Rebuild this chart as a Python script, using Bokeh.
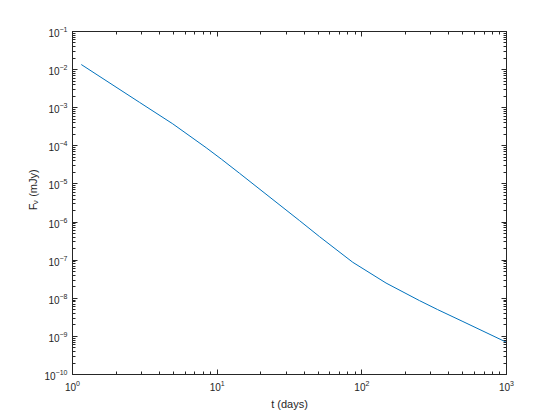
import math
from bokeh.plotting import figure
from bokeh.layouts import row
from bokeh.models import Range1d, LogAxis, FixedTicker, CustomJSTickFormatter
from bokeh.core.properties import value
from bokeh.embed import file_html
from bokeh.resources import INLINE

# Data (t in days, flux density in mJy)
t_days = [1.15, 2.90, 4.93, 8.40, 10.7, 14.26, 37.0, 50.9, 86.5,
          147.0, 250.0, 334.0, 500.0, 1000.0]
flux_mjy = [1.36e-2, 1.39e-3, 3.78e-4, 8.91e-5, 4.47e-5, 1.91e-5, 1.10e-6,
            4.17e-7, 8.81e-8, 2.51e-8, 8.71e-9, 5.05e-9, 2.45e-9, 7.0e-10]

x_major = [1, 10, 100, 1000]
y_major = [10.0 ** e for e in range(-10, 0)]

x_minor = [m * 10.0 ** e for e in range(0, 3) for m in range(2, 10)]
y_minor = [m * 10.0 ** e for e in range(-10, -1) for m in range(2, 10)]

ylabel_parts = ["F", "\u03bd", "(mJy)"]
xlabel = "t (days)"

AX = "#262626"
FONT = "Liberation Sans"
LABEL_W = 40
TOTAL_H = 408

p = figure(x_axis_type="log", y_axis_type="log",
           x_range=Range1d(1, 1000), y_range=Range1d(1e-10, 1e-1),
           frame_width=434, frame_height=343,
           min_border_left=72 - LABEL_W, min_border_right=38,
           min_border_top=31, min_border_bottom=TOTAL_H - 31 - 343,
           output_backend="svg", toolbar_location=None)

p.grid.visible = False
p.background_fill_color = "white"
p.border_fill_color = "white"
p.outline_line_color = AX

p.line(t_days, flux_mjy, line_color="#0072BD", line_width=1)


def style_axis(ax, ticks, minor, show_labels):
    ax.ticker = FixedTicker(ticks=ticks, minor_ticks=minor)
    ax.axis_line_color = AX
    ax.major_tick_line_color = AX
    ax.minor_tick_line_color = AX
    ax.major_tick_in = 5
    ax.major_tick_out = 0
    ax.minor_tick_in = 3
    ax.minor_tick_out = 0
    ax.major_label_text_font = FONT
    ax.major_label_text_font_size = "10px"
    ax.major_label_text_color = AX
    ax.major_label_standoff = 5
    if not show_labels:
        ax.formatter = CustomJSTickFormatter(code="return ''")
        ax.major_label_text_font_size = "1px"
        ax.major_label_standoff = 0


xa = p.xaxis[0]
ya = p.yaxis[0]
style_axis(xa, x_major, x_minor, True)
style_axis(ya, y_major, y_minor, True)
xa.axis_label = xlabel
xa.axis_label_text_font = FONT
xa.axis_label_text_font_size = "11px"
xa.axis_label_text_font_style = "normal"
xa.axis_label_text_color = AX
xa.axis_label_standoff = 4

top = LogAxis()
right = LogAxis()
style_axis(top, x_major, x_minor, False)
style_axis(right, y_major, y_minor, False)
p.add_layout(top, "above")
p.add_layout(right, "right")

# Narrow companion canvas carrying the rotated y-axis label "F_nu (mJy)"
lf = figure(width=LABEL_W, height=TOTAL_H,
            x_range=Range1d(0, LABEL_W), y_range=Range1d(0, TOTAL_H),
            min_border=0, x_axis_location=None, y_axis_location=None,
            output_backend="svg", toolbar_location=None)
lf.grid.visible = False
lf.outline_line_color = None
lf.background_fill_color = "white"
lf.border_fill_color = "white"

common = dict(angle=math.pi / 2, text_font=value(FONT), text_color=AX,
              text_align="left", text_baseline="alphabetic")
lf.text(x=[32], y=[TOTAL_H - 215], text=[ylabel_parts[0]], text_font_size="11px", **common)
lf.text(x=[35], y=[TOTAL_H - 208], text=[ylabel_parts[1]], text_font_size="8px", **common)
lf.text(x=[32], y=[TOTAL_H - 199], text=[ylabel_parts[2]], text_font_size="11px", **common)

layout = row(lf, p)
open("out.html", "w").write(file_html(layout, INLINE))
